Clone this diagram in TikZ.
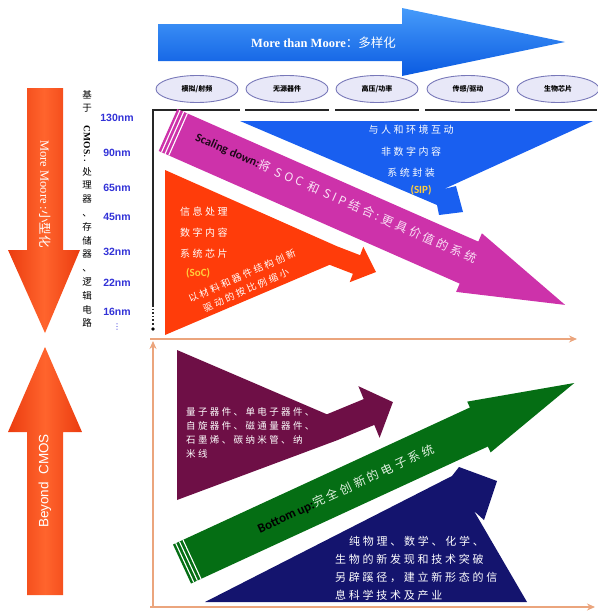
\documentclass[tikz,border=0pt]{standalone}
\usepackage{fontspec}
\usepackage{graphicx}
\setmainfont{Liberation Serif}
\newfontfamily\cjk{Noto Sans CJK SC}
\newfontfamily\cjks[LetterSpace=25]{Noto Sans CJK SC}
\newfontfamily\calfont{Carlito}
\newfontfamily\lsans{Liberation Sans}
\newfontfamily\dvs{DejaVu Sans}
\usetikzlibrary{arrows.meta,shapes.geometric}
\newcommand\fsz[1]{\fontsize{#1}{#1}\selectfont}
\definecolor{bluetop}{RGB}{70,155,250}
\definecolor{bluebot}{RGB}{10,90,225}
\definecolor{sipblue}{RGB}{25,95,240}
\definecolor{pinkc}{RGB}{205,50,170}
\definecolor{pinktxt}{RGB}{250,225,245}
\definecolor{socred}{RGB}{255,60,10}
\definecolor{maroonc}{RGB}{110,15,70}
\definecolor{greenc}{RGB}{5,110,20}
\definecolor{greentxt}{RGB}{225,240,225}
\definecolor{navyc}{RGB}{20,20,110}
\definecolor{peach}{RGB}{235,165,125}
\definecolor{nmblue}{RGB}{50,50,215}
\definecolor{ovalfill}{RGB}{232,232,248}
\definecolor{ovalline}{RGB}{120,120,185}
\definecolor{soyellow}{RGB}{255,205,60}
\definecolor{ordark}{RGB}{235,60,15}
\definecolor{orlight}{RGB}{255,100,45}
\tikzset{
  oval/.style={ellipse, draw=ovalline, fill=ovalfill, line width=0.9, minimum width=82, minimum height=27, inner sep=0, font=\cjk\bfseries\fsz{7}},
  blkline/.style={draw=black!85, line width=2.2},
  peachline/.style={draw=peach, line width=2.4, -{Stealth[length=8pt,width=7pt]}},
  nm/.style={text=nmblue, font=\lsans\bfseries\fsz{10.5}, inner sep=0},
  wtxt/.style={text=white, inner sep=0, font=\cjks\fsz{10}},
  ytxt/.style={text=soyellow, inner sep=0, font=\calfont\bfseries\fsz{11}},
  stripe/.style={draw=white, line width=1.1},
  orarrow/.style={left color=ordark, right color=ordark, middle color=orlight}
}
\begin{document}
\begin{tikzpicture}[x=1pt,y=-1pt]
\useasboundingbox (0,0) rectangle (597,613);

% top blue arrow
\path[top color=bluetop, bottom color=bluebot] (158,24) -- (402,24) -- (402,8) -- (565,42) -- (402,76) -- (402,61) -- (158,61) -- cycle;
\node[text=white, inner sep=0] (mtm) at (322,43) {{\bfseries\fsz{12.5} More than Moore}{\cjk\fsz{12.5}：多样化}};

% ovals
\node[oval] (o1) at (197,89) {模拟/射频};
\node[oval] (o2) at (287,89) {无源器件};
\node[oval] (o3) at (377,89) {高压/功率};
\node[oval] (o4) at (468,89) {传感/驱动};
\node[oval] (o5) at (558,89) {生物芯片};

% black axis
\foreach \a/\b in {153/240,245/329,335/419,425/510,515/597}
  \draw[blkline] (\a,110) -- (\b,110);
\draw[blkline] (153,109) -- (153,305);
\draw[blkline, line width=1.6, dotted] (153,305) -- (153,326);
\fill[black] (153,329) circle (1.8);

% peach axes
\draw[peachline] (150,339) -- (577,339);
\draw[peachline] (153,607) -- (153,341);
\draw[peachline] (150,607) -- (595,607);

% left orange arrows
\path[orarrow] (27,88) -- (63,88) -- (63,250) -- (80,250) -- (45,333) -- (8,250) -- (27,250) -- cycle;
\node[rotate=-90, text=white, inner sep=0] (mm) at (45,194) {\fsz{12.5}More Moore :{\cjk 小型化}};
\path[orarrow] (27,595) -- (63,595) -- (63,432) -- (82,432) -- (45,347) -- (8,432) -- (27,432) -- cycle;
\node[rotate=90, text=white, inner sep=0] (bc) at (45,481) {\lsans\fsz{13.5}Beyond\ \ CMOS};

% vertical text column
\node[font=\cjk\fontsize{9.5}{13.8}\selectfont, align=center, inner sep=0, anchor=north] (col) at (87,90)
 {基\\于\\\rotatebox{-90}{\rmfamily\bfseries\fsz{9.5}CMOS}\\：\\处\\理\\器\\、\\存\\储\\器\\、\\逻\\辑\\电\\路};

% nm labels
\node[nm] (n130) at (117,118) {130nm};
\node[nm] (n90) at (117,153) {90nm};
\node[nm] (n65) at (117,188) {65nm};
\node[nm] (n45) at (117,217) {45nm};
\node[nm] (n32) at (117,252) {32nm};
\node[nm] (n22) at (117,283) {22nm};
\node[nm] (n16) at (117,312) {16nm};
\node[text=nmblue, inner sep=0, font=\dvs\fsz{8}] (ndots) at (117,327) {⋮};

% SiP blue arrow
\fill[sipblue] (240,121) -- (593,121) -- (444,189) -- (456,186) -- (463,212) -- (439,215) -- (437,205) -- cycle;
\node[wtxt] (s1) at (411,130) {与人和环境互动};
\node[wtxt] (s2) at (411,152) {非数字内容};
\node[wtxt] (s3) at (411,173) {系统封装};
\node[ytxt] (s4) at (421,190) {(SIP)};

% pink scaling-down arrow
\fill[pinkc] (177.3,109) -- (478.3,241.6) -- (481.9,233.3) -- (565.1,304.9) -- (456.1,291.9) -- (459.7,283.6) -- (158.7,151) -- cycle;
\draw[stripe] (180.0,110.2) -- (161.5,152.3);
\draw[stripe] (183.7,111.8) -- (165.1,153.8);
\draw[stripe] (187.4,113.4) -- (168.8,155.4);
\node[rotate=-23.8, inner sep=0] (ptxt) at (336,198)
 {{\calfont\bfseries\fsz{12}\color{black!85!pinkc}Scaling down:}{\cjks\fsz{12}\color{pinktxt}将 SOC 和 SIP结合:更具价值的系统}};

% SoC red arrow
\fill[socred] (165,170) -- (336.8,246.2) -- (360.1,255.2) -- (363.3,246.8) -- (376,272) -- (349.7,282.2) -- (352.9,273.8) -- (329.6,264.8) -- (165,335) -- cycle;
\node[wtxt, anchor=west] (c1) at (180,212) {信息处理};
\node[wtxt, anchor=west] (c2) at (180,233) {数字内容};
\node[wtxt, anchor=west] (c3) at (180,254) {系统芯片};
\node[ytxt, anchor=west] (c4) at (186,273) {(SoC)};
\node[wtxt, font=\cjks\fsz{9.5}, rotate=24] (c5) at (242,276) {以材料和器件结构创新};
\node[wtxt, font=\cjks\fsz{9.5}, rotate=24] (c6) at (246,290) {驱动的按比例缩小};

% maroon arrow
\fill[maroonc] (177,350) -- (326.9,414.3) -- (363.7,399.1) -- (358.4,386.2) -- (392.9,402.1) -- (379.6,437.8) -- (374.3,424.9) -- (337.5,440.1) -- (177,500) -- cycle;
\node[wtxt, font=\cjks\fsz{9.5}, anchor=west] (m1) at (186,412) {量子器件、单电子器件、};
\node[wtxt, font=\cjks\fsz{9.5}, anchor=west] (m2) at (186,426) {自旋器件、磁通量器件、};
\node[wtxt, font=\cjks\fsz{9.5}, anchor=west] (m3) at (186,440) {石墨烯、碳纳米管、纳};
\node[wtxt, font=\cjks\fsz{9.5}, anchor=west] (m4) at (186,454) {米线};

% green bottom-up arrow
\fill[greenc] (173,544.5) -- (469.9,407.5) -- (467.2,401.6) -- (574.3,383) -- (490.6,452.4) -- (487.9,446.5) -- (191,583.5) -- cycle;
\draw[stripe] (175.7,543.2) -- (193.7,582.2);
\draw[stripe] (179.4,541.6) -- (197.4,580.6);
\draw[stripe] (183.0,539.9) -- (201.0,578.9);
\node[rotate=24.8, inner sep=0] (gtxt) at (346,489)
 {{\calfont\bfseries\fsz{13}\color{black}Bottom up:}{\cjks\fsz{12}\color{greentxt}完全创新的电子系统}};

% navy arrow
\fill[navyc] (205,602) -- (452,476) -- (459,467) -- (497,481) -- (484,520) -- (474,511) -- (527,602) -- cycle;
\node[wtxt, font=\cjks\fsz{11}, anchor=west] (b1) at (349,541) {纯物理、数学、化学、};
\node[wtxt, font=\cjks\fsz{11}, anchor=west] (b2) at (335,559) {生物的新发现和技术突破};
\node[wtxt, font=\cjks\fsz{11}, anchor=west] (b3) at (335,577) {另辟蹊径，建立新形态的信};
\node[wtxt, font=\cjks\fsz{11}, anchor=west] (b4) at (335,595) {息科学技术及产业};
\end{tikzpicture}
\end{document}
